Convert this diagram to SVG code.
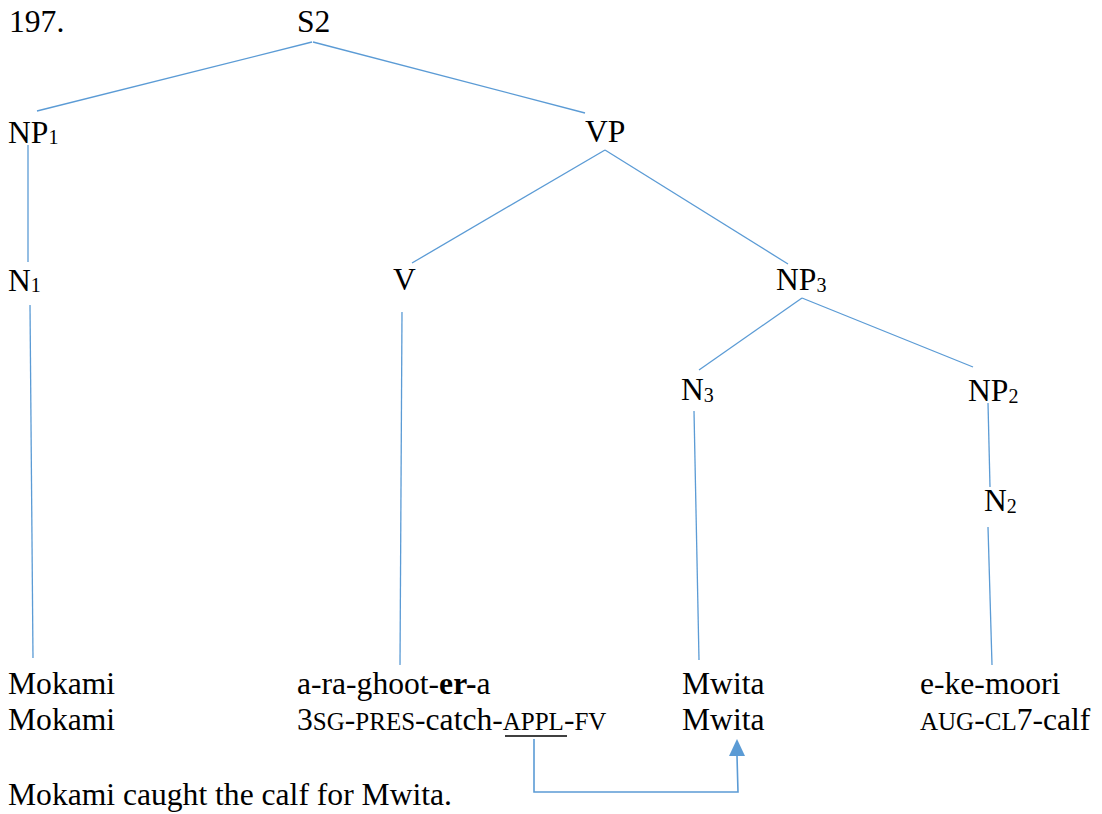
<svg xmlns="http://www.w3.org/2000/svg" width="1102" height="814" viewBox="0 0 1102 814">
  <defs>
    <style>
      text { font-family: 'Liberation Serif', 'Times New Roman', serif; font-size: 31.6px; fill: #000; }
      .sub { font-size: 20px; }
      .sc { font-size: 25px; }
      .b { font-weight: bold; }
      .edge { stroke: #5b9bd5; stroke-width: 1.3; fill: none; }
      .link { stroke: #5b9bd5; stroke-width: 1.6; fill: none; }
    </style>
  </defs>
  <rect width="1102" height="814" fill="#fff"/>

  <!-- example number -->
  <text id="exnum" x="9" y="32">197.</text>

  <!-- tree edges -->
  <g id="connectors">
    <line class="edge" x1="312" y1="42" x2="37" y2="111"/>
    <line class="edge" x1="313" y1="42" x2="585" y2="113"/>
    <line class="edge" x1="28" y1="145" x2="28" y2="262"/>
    <line class="edge" x1="605" y1="150" x2="412" y2="263"/>
    <line class="edge" x1="605" y1="150" x2="788" y2="264"/>
    <line class="edge" x1="30" y1="305" x2="33" y2="658"/>
    <line class="edge" x1="402" y1="312" x2="400" y2="665"/>
    <line class="edge" x1="802" y1="298" x2="699" y2="370"/>
    <line class="edge" x1="802" y1="298" x2="973" y2="367"/>
    <line class="edge" x1="694" y1="411" x2="699" y2="660"/>
    <line class="edge" x1="988" y1="403" x2="990" y2="487"/>
    <line class="edge" x1="988" y1="527" x2="992" y2="665"/>
    <!-- APPL -> Mwita arrow -->
    <polyline class="link" points="534,739 534,792 738,792 737,756"/>
    <polygon points="737,739 729,756 745,756" fill="#5b9bd5"/>
  </g>

  <!-- nodes -->
  <g id="node-S2"><text x="297" y="32">S2</text></g>
  <g id="node-NP1"><text x="8" y="143">NP<tspan class="sub" dy="1">1</tspan></text></g>
  <g id="node-VP"><text x="585" y="142">VP</text></g>
  <g id="node-N1"><text x="8" y="291">N<tspan class="sub" dy="1">1</tspan></text></g>
  <g id="node-V"><text x="393" y="290">V</text></g>
  <g id="node-NP3"><text x="776" y="290">NP<tspan class="sub" dy="2">3</tspan></text></g>
  <g id="node-N3"><text x="681" y="400">N<tspan class="sub" dy="2">3</tspan></text></g>
  <g id="node-NP2"><text x="968" y="401">NP<tspan class="sub" dy="2">2</tspan></text></g>
  <g id="node-N2"><text x="984" y="511">N<tspan class="sub" dy="2">2</tspan></text></g>

  <!-- leaves with glosses -->
  <g id="leaf-Mokami">
    <text x="8" y="694">Mokami</text>
    <text x="8" y="730">Mokami</text>
  </g>
  <g id="leaf-verb">
    <text x="297" y="694">a-ra-ghoot-<tspan class="b">er-</tspan>a</text>
    <text x="297" y="730">3<tspan class="sc">SG</tspan>-<tspan class="sc">PRES</tspan>-catch-<tspan class="sc">APPL</tspan>-<tspan class="sc">FV</tspan></text>
    <line x1="505" y1="736" x2="567" y2="736" stroke="#000" stroke-width="1.6"/>
  </g>
  <g id="leaf-Mwita">
    <text x="682" y="694">Mwita</text>
    <text x="682" y="730">Mwita</text>
  </g>
  <g id="leaf-ekemoori">
    <text x="920" y="694">e-ke-moori</text>
    <text x="920" y="730"><tspan class="sc">AUG</tspan>-<tspan class="sc">CL</tspan>7-calf</text>
  </g>

  <!-- free translation -->
  <text id="translation" x="8" y="805">Mokami caught the calf for Mwita.</text>
</svg>
